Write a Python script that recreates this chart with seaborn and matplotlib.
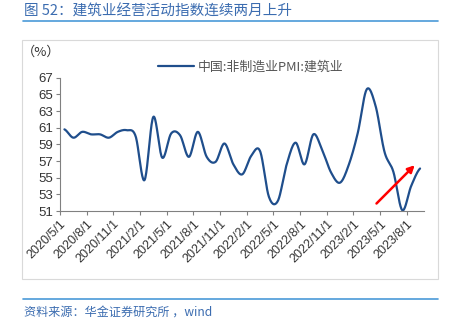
import numpy as np
import pandas as pd
import seaborn as sns
import matplotlib
matplotlib.use("Agg")
import matplotlib.pyplot as plt
from matplotlib.patches import Rectangle

# ---- data ----
months = pd.date_range("2020-05-01", "2023-09-01", freq="MS")
values = [60.8, 59.8, 60.5, 60.2, 60.2, 59.8, 60.5, 60.7, 60.0, 54.7,
          62.3, 57.4, 60.3, 60.1, 57.5, 60.5, 57.5, 56.9, 59.1, 56.6,
          55.4, 57.6, 58.2, 52.7, 52.2, 56.6, 59.2, 56.6, 60.2, 58.3,
          55.6, 54.4, 56.6, 60.4, 65.6, 63.6, 58.1, 55.7, 51.1, 54.0, 56.1]
series_name = "中国:非制造业PMI:建筑业"
tick_labels = ["2020/5/1", "2020/8/1", "2020/11/1", "2021/2/1", "2021/5/1",
               "2021/8/1", "2021/11/1", "2022/2/1", "2022/5/1", "2022/8/1",
               "2022/11/1", "2023/2/1", "2023/5/1", "2023/8/1"]
yticks = [51, 53, 55, 57, 59, 61, 63, 65, 67]
title = "图 52：建筑业经营活动指数连续两月上升"
source = "资料来源：华金证券研究所 ，wind"

sns.set_theme(style="white")
plt.rcParams['font.family'] = ['Noto Sans CJK SC', 'DejaVu Sans']
plt.rcParams['axes.unicode_minus'] = False

# smooth curve (Catmull-Rom, like Excel smoothed lines) drawn from data
def catmull_rom(y, n=20):
    y = np.asarray(y, float)
    p = np.concatenate([[y[0]], y, [y[-1]]])
    xs, ys = [], []
    for i in range(1, len(p) - 2):
        p0, p1, p2, p3 = p[i - 1], p[i], p[i + 1], p[i + 2]
        t = np.linspace(0, 1, n, endpoint=False)
        v = 0.5 * ((2 * p1) + (-p0 + p2) * t + (2 * p0 - 5 * p1 + 4 * p2 - p3) * t ** 2
                   + (-p0 + 3 * p1 - 3 * p2 + p3) * t ** 3)
        xs.extend(i - 1 + t)
        ys.extend(v)
    xs.append(len(y) - 1)
    ys.append(y[-1])
    return np.array(xs), np.array(ys)

sx, sy = catmull_rom(values)
# categories centred between tick marks (Excel category axis)
df = pd.DataFrame({"x": sx + 0.5, "y": sy, "s": series_name})

W, H = 452, 327
fig = plt.figure(figsize=(W / 100, H / 100), dpi=100)
ax = fig.add_axes([60 / W, 1 - 211 / H, (424.5 - 60) / W, (211 - 77.7) / H])

line_color = "#1f4e8c"
sns.lineplot(data=df, x="x", y="y", hue="s", palette=[line_color], ax=ax,
             linewidth=1.6, sort=False, estimator=None)

ax.set_xlim(0, len(months))
ax.set_ylim(51, 67)
ax.set_yticks(yticks)
ax.set_yticklabels([str(v) for v in yticks], fontsize=9.5, color="#333333",
                   family=['Liberation Sans', 'DejaVu Sans'])
tick_pos = [i for i in range(0, len(months), 3)]
ax.set_xticks(tick_pos)
ax.set_xticklabels(tick_labels, rotation=45, ha="right", rotation_mode="anchor",
                   fontsize=9, color="#333333", family=['Liberation Sans', 'DejaVu Sans'])
ax.set_xlabel("")
ax.set_ylabel("")
for s in ["top", "right"]:
    ax.spines[s].set_visible(False)
for s in ["left", "bottom"]:
    ax.spines[s].set_color("#808080")
    ax.spines[s].set_linewidth(0.8)
ax.tick_params(axis="both", which="both", direction="out", length=3, width=0.8,
               color="#808080", left=True, bottom=True, pad=2)
ax.grid(False)

leg = ax.legend(loc="upper left", bbox_to_anchor=(0.255, 1.165), frameon=False,
                fontsize=9.3, handlelength=2.8, handletextpad=0.3, borderaxespad=0)
for t in leg.get_texts():
    t.set_color("#555555")

# red arrow annotation
ax.annotate("", xy=(39.9, 56.5), xytext=(35.6, 51.9),
            arrowprops=dict(arrowstyle="-|>", color="#ff0000", lw=1.8,
                            mutation_scale=10, shrinkA=0, shrinkB=0))

fig.text(22 / W, 1 - 52 / H, "（%）", fontsize=9.5, color="#333333", va="center", ha="left")

# chart frame
fig.patches.append(Rectangle((22.5 / W, 1 - 279 / H), (438 - 22.5) / W, (279 - 40) / H,
                             transform=fig.transFigure, fill=False,
                             edgecolor="#d9d9d9", linewidth=0.8))

# title and rules
fig.text(24 / W, 1 - 12 / H, title, fontsize=10.5, color="#3b6cb0", va="center", ha="left")
fig.add_artist(plt.Line2D([23 / W, 438 / W], [1 - 21 / H, 1 - 21 / H],
                          transform=fig.transFigure, color="#4a9ad8", linewidth=1.2))
fig.add_artist(plt.Line2D([23 / W, 438 / W], [1 - 299 / H, 1 - 299 / H],
                          transform=fig.transFigure, color="#4a9ad8", linewidth=1.2))
fig.text(24 / W, 1 - 312 / H, source, fontsize=8.7, color="#3b6cb0", va="center",
         ha="left", style="italic")

fig.savefig("out.png", dpi=100)
